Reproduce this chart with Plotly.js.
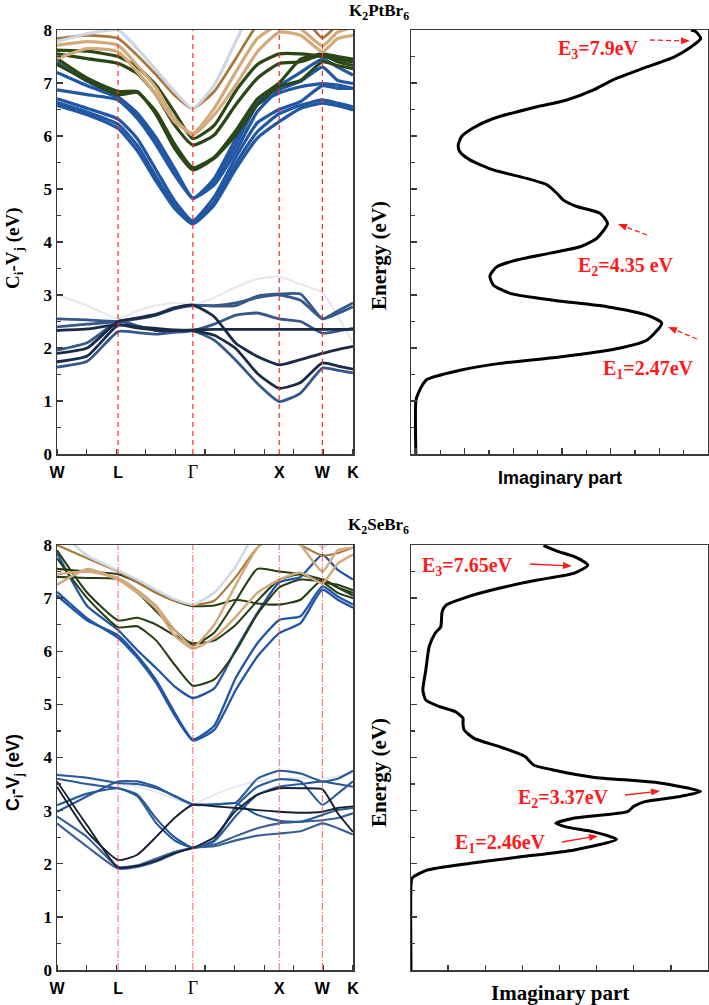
<!DOCTYPE html>
<html><head><meta charset="utf-8">
<script src="https://cdn.plot.ly/plotly-3.0.1.min.js"></script>
<style>html,body{margin:0;padding:0;background:#fff}#chart{width:709px;height:1005px}</style>
</head><body><div id="chart"></div>
<script>
// ---------- k-path ----------
const kPath = [0, 0.35, 0.707, 0.93, 1.15, 1.36, 1.573, 1.82, 2.07, 2.32, 2.573, 2.82, 3.073, 3.25, 3.427];
const kSym = [0, 0.707, 1.573, 2.573, 3.073, 3.427];
const kLabels = ['W', 'L', '<span style="font-family:Liberation Serif;font-weight:normal;font-size:18px">Γ</span>', 'X', 'W', 'K'];

// ---------- K2PtBr6 bands ----------
const ptValNavy = [
  [1.74, 1.85, 2.43, 2.4, 2.37, 2.34, 2.33, 2.24, 1.99, 1.52, 1.24, 1.35, 1.72, 1.66, 1.6],
  [1.9, 2.0, 2.5, 2.56, 2.63, 2.75, 2.81, 2.59, 2.09, 1.84, 1.68, 1.78, 1.9, 1.97, 2.03],
  [2.33, 2.36, 2.44, 2.38, 2.34, 2.33, 2.34, 2.35, 2.35, 2.35, 2.35, 2.35, 2.35, 2.35, 2.35]
];
const ptValSteel = [
  [1.64, 1.75, 2.31, 2.29, 2.26, 2.3, 2.33, 2.15, 1.77, 1.33, 0.99, 1.15, 1.62, 1.58, 1.53],
  [1.96, 2.1, 2.5, 2.42, 2.33, 2.3, 2.33, 2.45, 2.62, 2.66, 2.55, 2.5, 2.28, 2.32, 2.37],
  [2.55, 2.53, 2.5, 2.57, 2.64, 2.76, 2.81, 2.79, 2.8, 2.98, 3.02, 3.02, 2.55, 2.7, 2.85],
  [2.4, 2.45, 2.5, 2.55, 2.62, 2.74, 2.8, 2.8, 2.85, 2.95, 3.0, 2.9, 2.55, 2.65, 2.78]
];
const ptValFaint = [
  [3.0, 2.8, 2.55, 2.7, 2.8, 2.85, 2.82, 2.95, 3.15, 3.3, 3.35, 3.2, 3.05, 2.6, 2.1]
];
const ptCbBlue = [
  [6.58, 6.4, 6.14, 5.72, 5.14, 4.64, 4.34, 4.7, 5.38, 5.96, 6.27, 6.52, 6.62, 6.57, 6.49],
  [6.63, 6.45, 6.22, 5.82, 5.22, 4.7, 4.37, 4.75, 5.48, 6.08, 6.42, 6.58, 6.68, 6.62, 6.55],
  [6.7, 6.52, 6.32, 5.95, 5.35, 4.78, 4.4, 4.85, 5.6, 6.25, 6.5, 6.65, 6.95, 6.9, 6.9],
  [6.87, 6.78, 6.68, 6.33, 5.83, 5.27, 4.83, 5.08, 5.71, 6.46, 6.87, 7.03, 7.3, 7.05, 6.99],
  [7.39, 7.03, 6.74, 6.43, 5.96, 5.39, 4.83, 5.14, 5.83, 6.59, 6.81, 6.93, 6.99, 6.96, 6.9],
  [7.2, 6.95, 6.72, 6.38, 5.9, 5.33, 4.82, 5.2, 5.95, 6.65, 6.95, 7.2, 7.45, 7.3, 7.15]
];
const ptCbGreen = [
  [7.46, 7.09, 6.84, 6.84, 6.4, 5.77, 5.36, 5.58, 6.02, 6.59, 6.93, 7.05, 7.4, 7.33, 7.27],
  [7.35, 7.05, 6.78, 6.82, 6.45, 5.85, 5.4, 5.6, 6.1, 6.7, 7.0, 7.45, 7.55, 7.5, 7.45],
  [7.55, 7.46, 7.37, 7.18, 6.77, 6.21, 5.83, 6.02, 6.59, 7.09, 7.37, 7.4, 7.53, 7.4, 7.33],
  [7.62, 7.6, 7.5, 7.3, 6.95, 6.45, 5.95, 6.2, 6.85, 7.35, 7.55, 7.55, 7.5, 7.45, 7.4]
];
const ptCbTan = [
  [7.71, 7.78, 7.71, 7.33, 6.9, 6.33, 6.02, 6.4, 6.96, 7.59, 7.96, 7.9, 7.59, 7.84, 7.9],
  [7.46, 7.65, 7.59, 7.21, 6.77, 6.27, 6.05, 6.52, 7.21, 7.84, 8.1, 8.02, 7.7, 7.96, 8.05]
];
const ptCbBrown = [
  [7.84, 7.9, 7.84, 7.52, 7.15, 6.77, 6.52, 6.84, 7.46, 8.1, 8.4, 8.3, 7.85, 8.1, 8.2]
];
const ptCbGrey = [
  [7.78, 7.93, 8.0, 7.65, 7.24, 6.84, 6.52, 6.96, 7.78, 8.6, 9.0, 9.0, 8.3, 8.5, 8.6]
];

// ---------- K2SeBr6 bands ----------
const seValDark = [
  [3.45, 2.6, 2.07, 2.17, 2.51, 2.86, 3.11, 3.08, 3.05, 3.01, 2.98, 2.96, 2.98, 3.05, 3.08],
  [3.55, 2.72, 1.93, 1.96, 2.06, 2.2, 2.3, 2.5, 3.0, 3.3, 3.42, 3.42, 3.4, 2.95, 2.6]
];
const seValBlue = [
  [3.1, 3.32, 3.42, 3.27, 2.76, 2.44, 2.3, 2.44, 3.08, 3.45, 3.59, 3.55, 3.11, 3.32, 3.55],
  [3.6, 3.5, 3.42, 3.3, 2.85, 2.5, 2.3, 2.42, 2.9, 3.3, 3.45, 3.5, 3.55, 3.5, 3.45],
  [2.98, 3.27, 3.55, 3.55, 3.45, 3.27, 3.11, 3.11, 3.14, 2.92, 2.81, 2.79, 2.92, 3.01, 3.05],
  [3.67, 3.62, 3.52, 3.5, 3.42, 3.28, 3.12, 3.12, 3.15, 3.6, 3.75, 3.7, 3.55, 3.6, 3.75]
];
const seValSteel = [
  [2.76, 2.32, 1.91, 1.94, 2.04, 2.19, 2.3, 2.33, 2.44, 2.53, 2.57, 2.61, 2.76, 2.67, 2.55],
  [2.89, 2.5, 1.94, 1.97, 2.1, 2.22, 2.3, 2.36, 2.52, 2.67, 2.76, 2.79, 2.82, 2.86, 2.95]
];
const seValFaint = [
  [3.7, 3.6, 3.5, 3.45, 3.35, 3.22, 3.12, 3.3, 3.45, 3.55, 3.6, 3.62, 3.6, 3.65, 3.7]
];
const seCbBlue = [
  [7.12, 6.62, 6.25, 5.88, 5.4, 4.8, 4.32, 4.52, 5.27, 5.9, 6.34, 6.53, 7.16, 6.97, 6.82],
  [7.05, 6.58, 6.3, 5.92, 5.45, 4.85, 4.34, 4.6, 5.5, 6.15, 6.59, 6.66, 7.22, 7.03, 6.88],
  [7.85, 6.85, 6.4, 6.02, 5.68, 5.34, 5.12, 5.3, 6.03, 6.72, 7.3, 7.4, 7.82, 7.53, 7.35]
];
const seCbGreen = [
  [7.75, 7.0, 6.45, 6.47, 6.2, 5.75, 5.35, 5.47, 6.0, 6.7, 7.2, 7.35, 7.3, 7.1, 7.0],
  [7.9, 7.1, 6.58, 6.63, 6.5, 6.3, 6.15, 6.2, 6.5, 6.95, 7.35, 7.45, 7.35, 7.2, 7.05],
  [7.4, 7.38, 7.36, 7.1, 6.75, 6.4, 6.12, 6.35, 6.95, 7.55, 7.5, 7.45, 7.3, 7.25, 7.15],
  [7.55, 7.5, 7.45, 7.3, 7.1, 6.95, 6.85, 6.86, 6.97, 6.9, 6.88, 6.97, 7.35, 7.2, 7.1]
];
const seCbTan = [
  [7.25, 7.55, 7.35, 7.1, 6.8, 6.3, 6.05, 6.25, 6.65, 7.1, 7.35, 7.48, 7.28, 7.65, 7.82],
  [7.45, 7.5, 7.38, 7.15, 6.85, 6.4, 6.08, 6.5, 7.25, 7.95, 8.3, 8.0, 7.5, 7.9, 7.95]
];
const seCbBrown = [
  [8.0, 7.75, 7.5, 7.3, 7.1, 6.95, 6.87, 6.95, 7.4, 7.95, 8.2, 8.0, 7.8, 7.85, 7.95]
];
const seCbGrey = [
  [8.3, 7.8, 7.52, 7.35, 7.15, 6.98, 6.88, 7.1, 7.6, 8.3, 8.6, 8.5, 7.95, 8.2, 8.3]
];

// ---------- Imaginary part ----------
const ptImagE = [0, 1.0, 1.15, 1.4, 1.58, 1.71, 1.83, 2.0, 2.15, 2.47, 2.62, 2.78, 2.9, 3.03, 3.19, 3.36, 3.53, 3.66, 3.79, 3.91, 4.07, 4.35, 4.54, 4.67, 4.79, 4.92, 5.08, 5.2, 5.36, 5.55, 5.7, 5.83, 5.99, 6.15, 6.33, 6.52, 6.68, 6.87, 7.06, 7.28, 7.49, 7.68, 7.84, 7.97, 8.0];
const ptImag  = [0, 0, 0.1, 0.44, 1.81, 3.46, 5.9, 8.4, 9.5, 10.1, 9.5, 7.85, 5.65, 3.87, 3.18, 3.04, 3.32, 4.14, 5.51, 6.75, 7.43, 7.87, 7.57, 6.61, 6.06, 5.79, 5.38, 4.55, 3.18, 2.22, 1.81, 1.74, 1.88, 2.35, 3.18, 4.69, 6.2, 7.3, 8.1, 9.35, 10.6, 11.3, 11.7, 11.5, 11.3];
const seImagE = [0, 1.6, 1.73, 1.88, 2.01, 2.13, 2.26, 2.46, 2.6, 2.69, 2.76, 2.86, 2.98, 3.08, 3.17, 3.26, 3.36, 3.52, 3.63, 3.77, 3.86, 4.02, 4.2, 4.36, 4.52, 4.64, 4.74, 4.86, 4.96, 5.08, 5.27, 5.65, 6.09, 6.34, 6.46, 6.75, 6.87, 7.02, 7.19, 7.34, 7.47, 7.62, 7.78, 7.88, 7.99];
const seImag  = [0, 0, 0.03, 0.43, 1.6, 2.95, 4.4, 5.54, 4.92, 4.2, 3.9, 4.4, 5.83, 6.0, 6.3, 7.2, 7.8, 6.7, 4.9, 3.8, 3.3, 3.07, 2.4, 1.7, 1.43, 1.4, 1.4, 1.2, 0.76, 0.4, 0.32, 0.4, 0.49, 0.65, 0.8, 0.84, 0.95, 1.5, 2.4, 3.4, 4.4, 4.76, 4.4, 3.95, 3.57];

const ptPeaks = ['E<sub>3</sub>=7.9eV', 'E<sub>2</sub>=4.35 eV', 'E<sub>1</sub>=2.47eV'];
const sePeaks = ['E<sub>3</sub>=7.65eV', 'E<sub>2</sub>=3.37eV', 'E<sub>1</sub>=2.46eV'];
const titles = ['K<sub>2</sub>PtBr<sub>6</sub>', 'K<sub>2</sub>SeBr<sub>6</sub>'];

// ---------- helpers ----------
const W = 709, H = 1005;
const px = v => v / W, py = v => 1 - v / H;
const SERIF = 'Liberation Serif', SANS = 'Liberation Sans';

function bands(list, color, width, xa, ya) {
  return list.map(e => ({x: kPath, y: e, xaxis: xa, yaxis: ya, mode: 'lines', hoverinfo: 'skip',
    line: {color: color, width: width, shape: 'spline', smoothing: 0.5}}));
}
const traces = [].concat(
  bands(ptValFaint, '#e3e8ef', 2, 'x', 'y'),
  bands(ptValSteel, '#36598a', 2.8, 'x', 'y'),
  bands(ptValNavy, '#1a2a47', 2.8, 'x', 'y'),
  bands(ptCbBlue, '#2257a3', 3.2, 'x', 'y'),
  bands(ptCbGreen, '#2b4716', 3.2, 'x', 'y'),
  bands(ptCbBrown, '#a8793f', 2.8, 'x', 'y'),
  bands(ptCbTan, '#d3aa7a', 3.2, 'x', 'y'),
  bands(ptCbGrey, '#cdd6e2', 3.2, 'x', 'y'),
  bands(seValFaint, '#dfe6ef', 1.6, 'x3', 'y3'),
  bands(seValSteel, '#3a6196', 2.1, 'x3', 'y3'),
  bands(seValBlue, '#2a5a98', 2.1, 'x3', 'y3'),
  bands(seValDark, '#141f33', 1.9, 'x3', 'y3'),
  bands(seCbBlue, '#2156a6', 2.3, 'x3', 'y3'),
  bands(seCbGreen, '#283f15', 2.1, 'x3', 'y3'),
  bands(seCbBrown, '#a8793f', 2.1, 'x3', 'y3'),
  bands(seCbTan, '#d2aa7c', 2.5, 'x3', 'y3'),
  bands(seCbGrey, '#cfd8e4', 2.5, 'x3', 'y3'),
  [{x: ptImag, y: ptImagE, xaxis: 'x2', yaxis: 'y2', mode: 'lines', hoverinfo: 'skip',
    line: {color: '#000', width: 3, shape: 'spline', smoothing: 0.6}},
   {x: seImag, y: seImagE, xaxis: 'x4', yaxis: 'y4', mode: 'lines', hoverinfo: 'skip',
    line: {color: '#000', width: 3, shape: 'spline', smoothing: 0.6}}]
);

const box = {showline: true, mirror: true, linecolor: '#3a3a3a', linewidth: 1.5, showgrid: false, zeroline: false, fixedrange: true};
function bandX(dom, anchor) {
  return Object.assign({}, box, {domain: dom, anchor: anchor, range: [0, 3.427], tickmode: 'array',
    tickvals: kSym, ticktext: kLabels, ticks: '', ticklabelstandoff: 3,
    tickfont: {family: SANS, size: 16, weight: 'bold', color: '#000'},
    minor: {tickmode: 'linear', tick0: 0, dtick: 0.3427, ticks: 'inside', ticklen: 5, tickcolor: '#3a3a3a', tickwidth: 1.2}});
}
function bandY(dom, anchor) {
  return Object.assign({}, box, {domain: dom, anchor: anchor, range: [0, 8], dtick: 1, tick0: 0,
    ticks: 'inside', ticklen: 6, tickwidth: 1.3, tickcolor: '#3a3a3a',
    tickfont: {family: SERIF, size: 17, weight: 'bold', color: '#000'},
    minor: {dtick: 0.5, ticks: 'inside', ticklen: 3.5, tickcolor: '#3a3a3a', tickwidth: 1.2}});
}
function specY(dom, anchor) {
  return Object.assign({}, box, {domain: dom, anchor: anchor, range: [0, 8], dtick: 1, tick0: 0,
    ticks: 'inside', ticklen: 6, tickwidth: 1.3, tickcolor: '#3a3a3a', showticklabels: false,
    minor: {dtick: 0.5, ticks: 'inside', ticklen: 4, tickcolor: '#3a3a3a', tickwidth: 1.2}});
}
const topDom = [py(454), py(30)], botDom = [py(970), py(545)];
const leftDom = [px(57), px(353)], rightDom = [px(411), px(708)];

const layout = {
  width: W, height: H, margin: {l: 0, r: 0, t: 0, b: 0}, showlegend: false,
  paper_bgcolor: '#fff', plot_bgcolor: '#fff',
  xaxis: bandX(leftDom, 'y'), yaxis: bandY(topDom, 'x'),
  xaxis3: bandX(leftDom, 'y3'), yaxis3: bandY(botDom, 'x3'),
  xaxis2: Object.assign({}, box, {domain: rightDom, anchor: 'y2', range: [-0.2, 12], tick0: 0, dtick: 2,
    ticks: 'inside', ticklen: 6, tickwidth: 1.3, tickcolor: '#3a3a3a', showticklabels: false,
    minor: {dtick: 1, ticks: 'inside', ticklen: 4, tickcolor: '#3a3a3a', tickwidth: 1.2}}),
  yaxis2: specY(topDom, 'x2'),
  xaxis4: Object.assign({}, box, {domain: rightDom, anchor: 'y4', range: [0, 8], tick0: 0, dtick: 1,
    ticks: 'inside', ticklen: 5, tickwidth: 1.3, tickcolor: '#3a3a3a', showticklabels: false}),
  yaxis4: specY(botDom, 'x4'),
  shapes: [], annotations: []
};

// high-symmetry lines
kSym.slice(1, 5).forEach(k => {
  layout.shapes.push({type: 'line', xref: 'x', yref: 'y domain', x0: k, x1: k, y0: 0, y1: 1,
    line: {color: '#ff2a2a', width: 1.2, dash: '5px,4px'}});
  layout.shapes.push({type: 'line', xref: 'x3', yref: 'y3 domain', x0: k, x1: k, y0: 0, y1: 1,
    line: {color: 'rgba(255,70,70,0.85)', width: 1, dash: '7px,2px,1px,2px'}});
});

const ann = layout.annotations;
function text(t, x, y, font, extra) {
  ann.push(Object.assign({text: t, xref: 'paper', yref: 'paper', x: px(x), y: py(y), showarrow: false,
    xanchor: 'center', yanchor: 'middle', font: font}, extra || {}));
}
// titles
text(titles[0], 379, 12, {family: SERIF, size: 17, weight: 'bold', color: '#000'});
text(titles[1], 379, 526, {family: SERIF, size: 17, weight: 'bold', color: '#000'});
// axis titles
text('C<sub>i</sub>-V<sub>j</sub> (eV)', 14, 248, {family: SERIF, size: 19, weight: 'bold', color: '#000'}, {textangle: -90});
text('C<sub>i</sub>-V<sub>j</sub> (eV)', 14, 773, {family: SANS, size: 18, weight: 'bold', color: '#000'}, {textangle: -90});
text('Energy (eV)', 379, 255, {family: SERIF, size: 21, weight: 'bold', color: '#000'}, {textangle: -90});
text('Energy (eV)', 379, 772, {family: SERIF, size: 21, weight: 'bold', color: '#000'}, {textangle: -90});
text('Imaginary part', 560, 478, {family: SANS, size: 18, weight: 'bold', color: '#000'});
text('Imaginary part', 560, 993, {family: SERIF, size: 21, weight: 'bold', color: '#000'});

// peak labels
const red = {family: SERIF, size: 20, weight: 'bold', color: '#ff1a1a'};
text(ptPeaks[0], 598, 49, red);
text(ptPeaks[1], 626, 267, red);
text(ptPeaks[2], 648, 369, red);
text(sePeaks[0], 467, 566, red);
text(sePeaks[1], 563, 798, red);
text(sePeaks[2], 500, 843, red);

// arrows drawn as shapes: shaft (dashed or solid) + filled head
function arrow(x0, y0, x1, y1, dashed) {
  const dx = x1 - x0, dy = y1 - y0, L = Math.hypot(dx, dy);
  const ux = dx / L, uy = dy / L, hl = 9, hw = 3.5;
  const bx = x1 - ux * hl, by = y1 - uy * hl;
  layout.shapes.push({type: 'line', xref: 'paper', yref: 'paper', x0: px(x0), y0: py(y0), x1: px(bx), y1: py(by),
    line: {color: '#ff1a1a', width: 1.3, dash: dashed ? '5px,3px' : 'solid'}});
  const p1 = [bx - uy * hw, by + ux * hw], p2 = [bx + uy * hw, by - ux * hw];
  layout.shapes.push({type: 'path', xref: 'paper', yref: 'paper', fillcolor: '#ff1a1a', line: {width: 0},
    path: `M ${px(x1)} ${py(y1)} L ${px(p1[0])} ${py(p1[1])} L ${px(p2[0])} ${py(p2[1])} Z`});
}
arrow(650, 40, 690, 41, true);
arrow(647, 235, 618, 224, true);
arrow(697, 339, 668, 327, true);
arrow(530, 564, 572, 566, false);
arrow(625, 795, 660, 791, false);
arrow(562, 842, 598, 836, false);

Plotly.newPlot('chart', traces, layout, {staticPlot: true, displayModeBar: false});
</script></body></html>
